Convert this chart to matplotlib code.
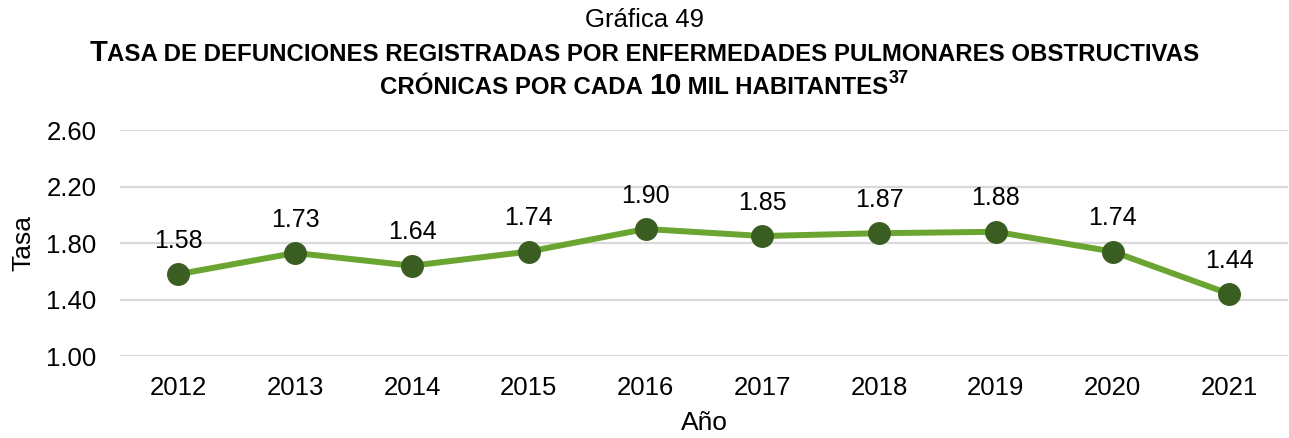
import matplotlib
matplotlib.use("Agg")
import matplotlib.pyplot as plt
from matplotlib.transforms import offset_copy

plt.rcParams['font.family'] = ['Liberation Sans', 'DejaVu Sans']

years = ['2012', '2013', '2014', '2015', '2016', '2017', '2018', '2019', '2020', '2021']
tasa = [1.58, 1.73, 1.64, 1.74, 1.90, 1.85, 1.87, 1.88, 1.74, 1.44]
yticks = [1.00, 1.40, 1.80, 2.20, 2.60]

LINE_GREEN = '#6AA532'
MARKER_GREEN = '#3A5E22'
GRID = '#D9D9D9'

fig = plt.figure(figsize=(12.89, 4.38), dpi=100)
ax = fig.add_axes([0.0931, 0.187, 0.906, 0.516])

x = list(range(len(years)))
ax.plot(x, tasa, color=LINE_GREEN, lw=4.3, marker='o', ms=15.5,
        mfc=MARKER_GREEN, mec=MARKER_GREEN, zorder=3, solid_capstyle='round')
for xi, v in zip(x, tasa):
    ax.annotate(f'{v:.2f}', (xi, v), xytext=(0, 19), textcoords='offset points',
                ha='center', va='baseline', fontsize=18, color='#000000')

ax.set_xlim(-0.5, len(years) - 0.5)
ax.set_ylim(1.0, 2.6)
ax.set_yticks(yticks)
ax.set_yticklabels([f'{t:.2f}' for t in yticks])
ax.set_xticks(x)
ax.set_xticklabels(years)
ax.tick_params(axis='both', length=0, labelsize=18.5, colors='#000000')
ax.tick_params(axis='x', pad=14)
ax.tick_params(axis='y', pad=17)
ax.grid(axis='y', color=GRID, lw=1.6)
ax.set_axisbelow(True)
for s in ax.spines.values():
    s.set_visible(False)
ax.set_xlabel('Año', fontsize=19, labelpad=8)
ax.set_ylabel('Tasa', fontsize=19, labelpad=8)

# Titles
fig.text(0.5, 1 - 27 / 438, 'Gráfica 49', ha='center', va='baseline', fontsize=18.5)

renderer = fig.canvas.get_renderer()


def small_caps_line(pieces, y_px):
    """Draw a centered line made of (text, size, raise_pt) pieces in bold."""
    y = 1 - y_px / 438
    widths = []
    for txt, size, _ in pieces:
        t = fig.text(0, 0, txt, fontsize=size, fontweight='bold')
        bb = t.get_window_extent(renderer)
        widths.append(bb.width)
        t.remove()
    total = sum(widths)
    cur = (fig.bbox.width - total) / 2
    for (txt, size, rise), w in zip(pieces, widths):
        tr = offset_copy(fig.transFigure, fig=fig, x=cur * 72 / fig.dpi, y=rise, units='points')
        fig.text(0, y, txt, fontsize=size, fontweight='bold', ha='left', va='baseline',
                 transform=tr)
        cur += w


BIG, SMALL = 21, 17.3
small_caps_line([
    ('T', BIG, 0),
    ('ASA DE DEFUNCIONES REGISTRADAS POR ENFERMEDADES PULMONARES OBSTRUCTIVAS', SMALL, 0),
], 61)
small_caps_line([
    ('CRÓNICAS POR CADA ', SMALL, 0),
    ('10', BIG, 0),
    (' MIL HABITANTES', SMALL, 0),
    ('37', 13, 8),
], 94)

fig.savefig('out.png', dpi=100)
